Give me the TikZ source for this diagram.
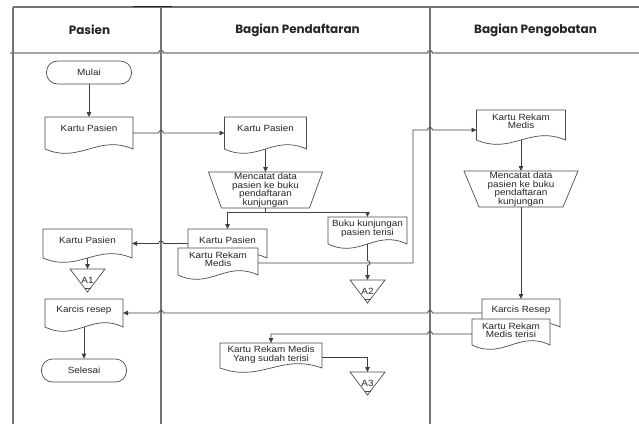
\documentclass[tikz,border=0pt]{standalone}
\usepackage{fontspec}
\setmainfont{Liberation Sans}
\newfontfamily\nodefont[FakeStretch=1.1]{Liberation Sans}
\newfontfamily\headfont{Poppins}
\usetikzlibrary{arrows.meta,calc}

\tikzset{
  x=1pt, y=1pt,
  lane/.style={draw=black!55, line width=1.4pt},
  conn/.style={draw=black!75, line width=0.8pt},
  arr/.style={conn, -{Triangle[length=5pt,width=4.5pt]}},
  shp/.style={draw=black!70, line width=0.7pt, fill=white},
  txt/.style={font=\nodefont\fontsize{9}{8.5}\selectfont, align=center, inner sep=0pt, text=black!85},
  hdr/.style={font=\headfont\bfseries\fontsize{12}{14}\selectfont, text=black!85, inner sep=0pt},
  box/.style={inner sep=0pt, outer sep=0pt, draw=none},
  term/.style={shp, rounded corners=11pt, minimum width=85pt, minimum height=23pt, inner sep=0pt,
    font=\nodefont\fontsize{9}{8.5}\selectfont, text=black!85},
}

% document shape: name, cx, top, w, h, text
\newcommand\docshape[6]{%
  \draw[shp] ({#2-#4/2},{-#3}) -- ({#2+#4/2},{-#3}) -- ({#2+#4/2},{-#3-#5})
    .. controls ({#2+#4/2-0.4*#4},{-#3-#5+15}) and ({#2-#4/2+0.4*#4},{-#3-#5-15}) ..
    ({#2-#4/2},{-#3-#5}) -- cycle;
  \node[box, minimum width=#4pt, minimum height=#5pt, anchor=north] (#1) at (#2,-#3) {};
  \node[txt] (#1-t) at ([yshift=-11.5pt]#1.north) {#6};
}
% manual operation: name, cx, top, w, h, inset, text
\newcommand\manop[7]{%
  \node[box, minimum width=#4pt, minimum height=#5pt, anchor=north] (#1) at (#2,-#3) {};
  \draw[shp] (#1.north west) -- (#1.north east) -- ([xshift=-#6pt]#1.south east)
    -- ([xshift=#6pt]#1.south west) -- cycle;
  \node[txt] (#1-t) at (#1.center) {#7};
}
% offline storage triangle: name, cx, top, text
\newcommand\offstore[4]{%
  \node[box, minimum width=35pt, minimum height=23pt, anchor=north] (#1) at (#2,-#3) {};
  \draw[shp] (#1.north west) -- (#1.north east) -- (#1.south) -- cycle;
  \draw[shp] ([xshift=-3pt,yshift=4pt]#1.south) -- ([xshift=3pt,yshift=4pt]#1.south);
  \node[txt] (#1-t) at ([yshift=0.5pt]#1.center) {#4};
}

\begin{document}
\begin{tikzpicture}
\useasboundingbox (0,0) rectangle (639,-424);

% swimlane frame
\draw[lane] (13,-7) -- (639,-7);
\draw[lane] (10,-53) -- (158.5,-53) arc[start angle=180,end angle=0,radius=2.5]
  -- (427.5,-53) arc[start angle=180,end angle=0,radius=2.5] -- (639,-53);
\draw[lane] (13,-7) -- (13,-424);
\draw[lane] (161,-7) -- (161,-424);
\draw[lane] (430,-7) -- (430,-424);
\draw[black!85, line width=1.8pt] (133,-6.5) -- (172,-6.5);

\node[hdr] (h1) at (89.5,-30) {Pasien};
\node[hdr] (h2) at (297.5,-30) {Bagian Pendaftaran};
\node[hdr] (h3) at (535.5,-30) {Bagian Pengobatan};

% Pasien lane
\node[term] (mulai) at (89,-72.5) {Mulai};
\docshape{kp1}{89}{117}{88}{32}{Kartu Pasien}
\docshape{kp3}{87.5}{229}{89}{29}{Kartu Pasien}
\offstore{a1}{87.5}{269}{A1}
\docshape{kr1}{84}{299}{78}{28}{Karcis resep}
\node[term] (selesai) at (84,-370.5) {Selesai};

% Pendaftaran lane
\docshape{kp2}{265.5}{117}{82}{32}{Kartu Pasien}
\manop{mc1}{265.5}{172}{114}{36}{13}{Mencatat data\\pasien ke buku\\pendaftaran\\kunjungan}
\docshape{kp4}{227.5}{229}{79}{29}{Kartu Pasien}
\docshape{rm1}{218}{248}{80}{27}{Kartu Rekam\\Medis}
\docshape{bk}{367.5}{217}{79}{27}{Buku kunjungan\\pasien terisi}
\offstore{a2}{367.5}{280}{A2}
\docshape{rm3}{271}{343}{102}{25}{Kartu Rekam Medis\\Yang sudah terisi}
\offstore{a3}{367.5}{372}{A3}

% Pengobatan lane
\docshape{rm2}{521}{110}{89}{30}{Kartu Rekam\\Medis}
\manop{mc2}{521}{171}{114}{36}{15}{Mencatat data\\pasien ke buku\\pendaftaran\\kunjungan}
\docshape{kr2}{521}{299}{78}{28}{Karcis Resep}
\docshape{rm4}{511}{319}{78}{26}{Kartu Rekam\\Medis terisi}

% connectors
\draw[arr] (mulai.south) -- (kp1.north);
\draw[arr] (kp1.east) -- (158.5,-133) arc[start angle=180,end angle=0,radius=2.5] -- (kp2.west);
\draw[arr] (kp2.south) -- (mc1.north);
\coordinate (sp) at (265.5,-212);
\draw[conn] (mc1.south) -- (sp);
\draw[arr] (sp) -| (kp4.north);
\draw[arr] (sp) -| (bk.north);
\draw[arr] (kp4.west) -- (163.5,-243.5) arc[start angle=0,end angle=180,radius=2.5] -- (kp3.east);
\draw[arr] (kp3.south) -- (a1.north);
\draw[arr] ([yshift=-1.5pt]rm1.east) -- (413,-263) -- (413,-130)
  -- (427.5,-130) arc[start angle=180,end angle=0,radius=2.5] -- ([yshift=-5pt]rm2.west);
\draw[arr] (bk.south) -- (367.5,-260.5) arc[start angle=90,end angle=-90,radius=2.5] -- (a2.north);
\draw[arr] (rm2.south) -- (mc2.north);
\draw[arr] (mc2.south) -- (kr2.north);
\draw[arr] (kr2.west) -- (432.5,-313) arc[start angle=0,end angle=180,radius=2.5]
  -- (163.5,-313) arc[start angle=0,end angle=180,radius=2.5] -- (kr1.east);
\draw[arr] ([yshift=-2pt]rm4.west) -- (432.5,-334) arc[start angle=0,end angle=180,radius=2.5]
  -- (271,-334) -- (rm3.north);
\draw[arr] ([yshift=-1.5pt]rm3.east) -| (a3.north);
\draw[arr] (kr1.south) -- (selesai.north);
\end{tikzpicture}
\end{document}
